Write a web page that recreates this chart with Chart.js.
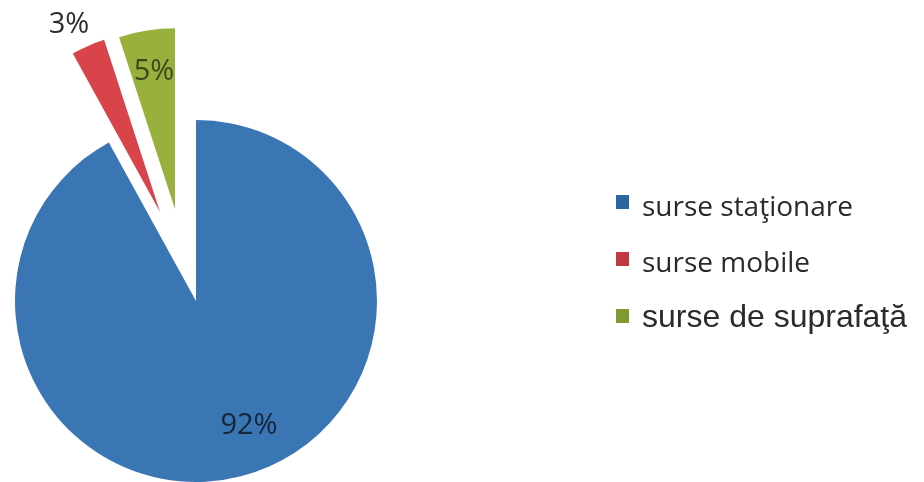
<!DOCTYPE html>
<html>
<head>
<meta charset="utf-8">
<script src="https://cdn.jsdelivr.net/npm/chart.js"></script>
<style>
  html, body { margin: 0; padding: 0; background: #fff; }
  #wrap { position: relative; width: 924px; height: 482px; overflow: hidden; }
  #chart { position: absolute; left: 0; top: 0; }
  .key { position: absolute; white-space: nowrap; color: #2a2a2a; }
  .box { position: absolute; width: 13px; height: 14px; }
</style>
</head>
<body>
<div id="wrap">
  <canvas id="chart" width="924" height="482"></canvas>
  <div id="legend"></div>
</div>
<script>
const categories = ['surse staţionare', 'surse mobile', 'surse de suprafaţă'];
const shares = [92, 3, 5];
const sliceColors = ['#3a76b4', '#d9434a', '#98b13c'];
const keyColors = ['#2b649f', '#c03a42', '#7f9a30'];

// how far each slice is pulled out of the pie (px) and how much the pull
// direction turns away from the slice bisector (deg)
const explode = [0, 96, 94];
const explodeTurn = [0, 1.4, -3.9];

// where each percentage sits: fraction of the radius and a small turn from the bisector (deg)
const labelSpots = [
  { r: 0.74, turn: -8.9, color: '#16263a' },
  { r: 1.16, turn: -2.3, color: '#2e2e2e' },
  { r: 0.78, turn: 0.4, color: '#3b4720' }
];

const rad = (deg) => deg * Math.PI / 180;

function shiftOf(arc, i) {
  const mid = (arc.startAngle + arc.endAngle) / 2 + rad(explodeTurn[i] || 0);
  const d = explode[i] || 0;
  return { dx: Math.cos(mid) * d, dy: Math.sin(mid) * d };
}

// draw the arcs ourselves so the pulled-out ones are only shifted, not reshaped
const explodedArcs = {
  id: 'explodedArcs',
  beforeDatasetDraw(chart, args) {
    const ctx = chart.ctx;
    args.meta.data.forEach((arc, i) => {
      const s = shiftOf(arc, i);
      ctx.save();
      ctx.translate(s.dx, s.dy);
      arc.draw(ctx, chart.chartArea);
      ctx.restore();
    });
    return false;
  }
};

const sliceLabels = {
  id: 'sliceLabels',
  afterDatasetsDraw(chart) {
    const ctx = chart.ctx;
    const meta = chart.getDatasetMeta(0);
    const total = shares.reduce((a, b) => a + b, 0);
    ctx.save();
    ctx.font = '29px "Open Sans"';
    ctx.textAlign = 'center';
    ctx.textBaseline = 'middle';
    meta.data.forEach((arc, i) => {
      const mid = (arc.startAngle + arc.endAngle) / 2;
      const s = shiftOf(arc, i);
      const spot = labelSpots[i];
      const a = mid + rad(spot.turn);
      const x = arc.x + s.dx + Math.cos(a) * arc.outerRadius * spot.r;
      const y = arc.y + s.dy + Math.sin(a) * arc.outerRadius * spot.r + 2;
      ctx.fillStyle = spot.color;
      ctx.fillText(Math.round(shares[i] / total * 100) + '%', x, y);
    });
    ctx.restore();
  }
};

new Chart(document.getElementById('chart'), {
  type: 'pie',
  data: {
    labels: categories,
    datasets: [{
      data: shares,
      backgroundColor: sliceColors,
      borderWidth: 0,
      radius: 181,
      clip: false
    }]
  },
  options: {
    responsive: false,
    animation: false,
    layout: { padding: { left: 0, right: 532, top: 120, bottom: 0 } },
    plugins: {
      legend: { display: false },
      tooltip: { enabled: false }
    }
  },
  plugins: [explodedArcs, sliceLabels]
});

// legend on the right
const legendRows = [
  { top: 191, boxTop: 195, font: '28px "Open Sans"' },
  { top: 247, boxTop: 252, font: '28px "Open Sans"' },
  { top: 300, boxTop: 309, font: '32px "Liberation Sans", Arial, sans-serif' }
];
const legend = document.getElementById('legend');
categories.forEach((name, i) => {
  const row = legendRows[i];
  const box = document.createElement('div');
  box.className = 'box';
  box.style.left = '616px';
  box.style.top = row.boxTop + 'px';
  box.style.background = keyColors[i];
  legend.appendChild(box);
  const txt = document.createElement('div');
  txt.className = 'key';
  txt.style.left = '642px';
  txt.style.top = row.top + 'px';
  txt.style.font = row.font;
  txt.style.lineHeight = row.font.split(' ')[0];
  txt.textContent = name;
  legend.appendChild(txt);
});
</script>
</body>
</html>
